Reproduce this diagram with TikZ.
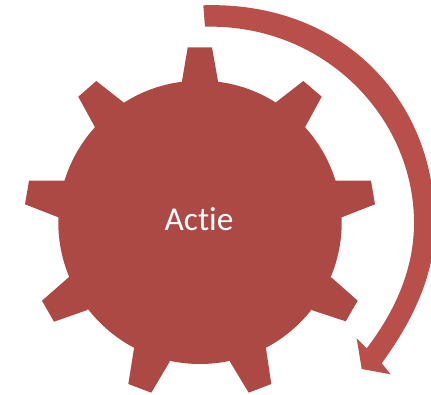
\documentclass[tikz,border=0pt]{standalone}
\usepackage{fontspec}
\setmainfont[Ligatures=NoCommon]{Carlito}
\definecolor{gearred}{HTML}{AC4945}
\definecolor{arrowred}{HTML}{B84F4B}
\tikzset{gearfill/.style={fill=gearred,draw=none},arrowfill/.style={fill=arrowred,draw=none}}
\begin{document}
\begin{tikzpicture}[x=0.75pt,y=-0.75pt]
\useasboundingbox (0,0) rectangle (431,395);
\clip (0,0) rectangle (431,395);
\fill[gearfill] (200,222.3) circle[radius=141.7];
\fill[gearfill] (181.5,84) -- (187.7,47.5) -- (212,47.5) -- (218.5,84) -- (200,120) -- cycle;
\fill[gearfill] (275,103) -- (303.3,81) -- (321.7,96.7) -- (305,127.3) -- (270,150) -- cycle;
\fill[gearfill] (335,180.7) -- (371,180.7) -- (375,204.3) -- (341.7,217.3) -- (310,200) -- cycle;
\fill[gearfill] (331.7,277.7) -- (357.7,300.7) -- (345.7,321.3) -- (312.3,310.3) -- (290,270) -- cycle;
\fill[gearfill] (266,348.3) -- (271.3,384) -- (248.7,392.7) -- (230,361.7) -- (240,320) -- cycle;
\fill[gearfill] (169.7,361.7) -- (151.3,392.7) -- (128.3,384) -- (134,348.3) -- (160,320) -- cycle;
\fill[gearfill] (87.3,310) -- (54,321.7) -- (42,300.7) -- (68.7,277.3) -- (110,270) -- cycle;
\fill[gearfill] (58.3,217.3) -- (25,204.3) -- (29,180.7) -- (65,180.7) -- (90,200) -- cycle;
\fill[gearfill] (95,127.3) -- (78.3,96.7) -- (96.3,81) -- (124.3,103) -- (130,150) -- cycle;
\fill[arrowfill] (203.3,5.3) .. controls (338,1) and (435,95) .. (435,225)
  .. controls (435,275) and (412,322) .. (381.7,363.3)
  -- (390.7,374.3) -- (361.7,369) -- (356.7,338.3) -- (366.7,348.3)
  .. controls (396,310) and (414,268) .. (414,223)
  .. controls (414,118) and (325,24) .. (205,26.7) -- cycle;
\node[text=white,font=\fontsize{25}{30}\selectfont,inner sep=0pt] (label) at (199,219.5) {Actie};
\end{tikzpicture}
\end{document}
